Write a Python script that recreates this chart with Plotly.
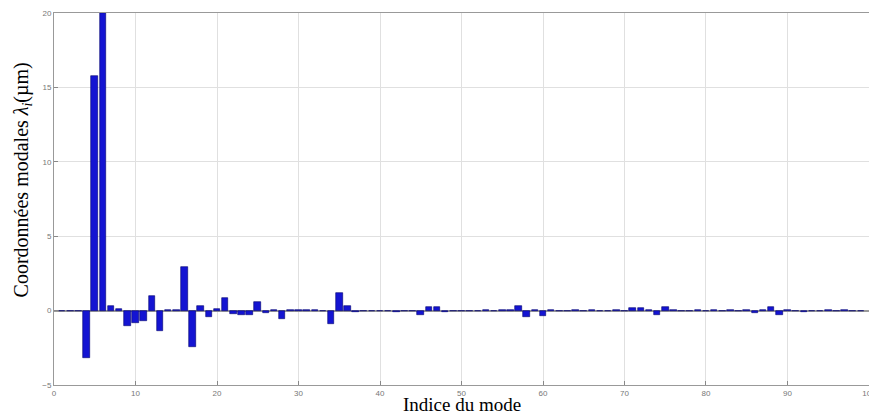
import plotly.graph_objects as go

modes = list(range(1, 100))
values = [
    0.0, 0.0, 0.0, -3.2, 15.8, 20.0, 0.3, 0.12, -1.05, -0.8,
    -0.72, 0.95, -1.35, 0.02, 0.03, 2.9, -2.45, 0.3, -0.45, 0.08,
    0.83, -0.25, -0.28, -0.3, 0.55, -0.15, 0.03, -0.55, 0.03, 0.02,
    0.02, 0.03, -0.03, -0.9, 1.15, 0.3, -0.08, -0.05, -0.05, -0.04,
    -0.03, -0.1, 0.0, -0.06, -0.3, 0.25, 0.22, -0.08, -0.05, -0.05,
    0.0, 0.0, 0.02, -0.06, 0.02, 0.05, 0.32, -0.42, 0.03, -0.35,
    0.02, -0.03, -0.05, 0.02, -0.03, 0.02, -0.04, -0.02, 0.02, -0.03,
    0.15, 0.15, 0.02, -0.3, 0.22, 0.02, -0.03, -0.04, 0.02, -0.03,
    0.02, -0.04, 0.02, -0.02, 0.02, -0.15, 0.02, 0.22, -0.3, 0.03,
    -0.02, -0.1, -0.03, -0.02, 0.02, -0.03, 0.05, 0.0, 0.0,
]
x_ticks = [0, 10, 20, 30, 40, 50, 60, 70, 80, 90, 100]
y_ticks = [-5, 0, 5, 10, 15, 20]
x_title = "Indice du mode"
y_title = "Coordonnées modales <i>λ<sub>i</sub></i>(µm)"

fig = go.Figure()
fig.add_trace(go.Bar(
    x=modes, y=values, width=0.8,
    marker=dict(color="#1414d2", line=dict(color="#00006e", width=0.6)),
    showlegend=False,
))

tick_font = dict(size=8, color="#777", family="Liberation Sans")

fig.update_layout(
    width=869, height=407,
    margin=dict(l=46, r=8, t=5, b=30),
    paper_bgcolor="white", plot_bgcolor="white",
    font=dict(family="Liberation Serif", color="#000"),
    bargap=0,
    xaxis=dict(
        range=[0, 100.001], tickvals=x_ticks, ticks="inside", ticklen=4,
        tickcolor="#888", tickfont=tick_font, ticklabelstandoff=0,
        showgrid=True, gridcolor="#e0e0e0", gridwidth=1,
        showline=True, linecolor="#999", mirror=True, zeroline=False,
        automargin=False,
    ),
    yaxis=dict(
        range=[-5, 20], tickvals=y_ticks, ticks="inside", ticklen=4,
        tickcolor="#888", tickfont=tick_font,
        showgrid=True, gridcolor="#e0e0e0", gridwidth=1,
        showline=True, linecolor="#999", mirror=True,
        zeroline=True, zerolinecolor="#9a9a9a", zerolinewidth=1.5,
        automargin=False,
    ),
    annotations=[
        dict(text=x_title, xref="paper", yref="paper", x=0.5, y=0,
             xanchor="center", yanchor="top", yshift=-7, showarrow=False,
             font=dict(size=19, family="Liberation Serif", color="#000")),
        dict(text=y_title, xref="paper", yref="paper", x=0, y=0.55,
             xanchor="center", yanchor="middle", xshift=-32, textangle=-90,
             showarrow=False,
             font=dict(size=20, family="Liberation Serif", color="#000")),
    ],
)

fig.write_html("out.html")
